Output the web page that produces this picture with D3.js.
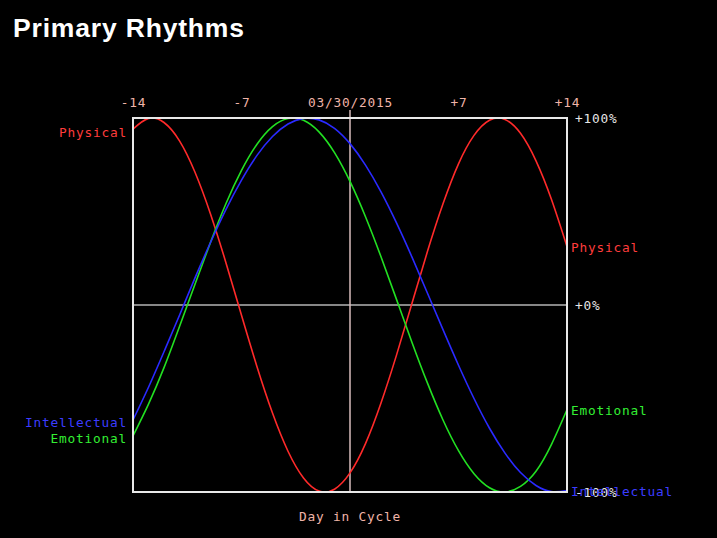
<!DOCTYPE html>
<html>
<head>
<meta charset="utf-8">
<script src="https://cdn.jsdelivr.net/npm/d3@7"></script>
<style>
  html, body { margin: 0; padding: 0; background: #000; }
  svg { display: block; }
  .mono { font-family: "DejaVu Sans Mono", "Liberation Mono", monospace; font-size: 12.8px; letter-spacing: 0.8px; }
</style>
</head>
<body>
<svg id="chart" width="717" height="538"></svg>
<script>
// ---- data ----
const days = [-14,-13,-12,-11,-10,-9,-8,-7,-6,-5,-4,-3,-2,-1,0,1,2,3,4,5,6,7,8,9,10,11,12,13,14];
const physical = [0.941,0.998,0.976,0.878,0.710,0.487,0.225,-0.055,-0.330,-0.578,-0.782,-0.925,-0.995,-0.985,-0.898,-0.741,-0.524,-0.268,0.009,0.287,0.541,0.755,0.907,0.988,0.992,0.918,0.771,0.564,0.312];
const emotional = [-0.700,-0.530,-0.335,-0.115,0.111,0.335,0.543,0.720,0.860,0.954,0.997,0.988,0.926,0.815,0.661,0.472,0.258,0.030,-0.200,-0.418,-0.615,-0.779,-0.902,-0.977,-1.000,-0.970,-0.889,-0.745,-0.560];
const intellectual = [-0.615,-0.440,-0.250,-0.055,0.145,0.334,0.511,0.668,0.800,0.901,0.968,0.998,0.990,0.945,0.863,0.748,0.605,0.439,0.256,0.063,-0.132,-0.322,-0.500,-0.659,-0.792,-0.896,-0.965,-0.998,-0.992];
const seriesNames = ["Physical","Emotional","Intellectual"];
const tickDays = [-14,-7,0,7,14];
const tickLabels = ["-14","-7","03/30/2015","+7","+14"];
const pctValues = [1,0,-1];
const pctLabels = ["+100%","+0%","-100%"];
const title = "Primary Rhythms";
const xTitle = "Day in Cycle";

// ---- drawing ----
const colors = {Physical:"#ff2a2a", Emotional:"#22e022", Intellectual:"#2a2aff"};
const labelColors = {Physical:"#ff3c3c", Emotional:"#33ee33", Intellectual:"#3c3cff"};
const seriesData = {Physical: physical, Emotional: emotional, Intellectual: intellectual};

const svg = d3.select("#chart");
svg.append("rect").attr("width",717).attr("height",538).attr("fill","#000");

const L = 133, R = 567, T = 118, B = 492;
const x = d3.scaleLinear().domain([-14,14]).range([L,R]);
const y = d3.scaleLinear().domain([-1,1]).range([B,T]);

svg.append("text").attr("x",13).attr("y",37)
  .attr("fill","#fff").attr("font-family","Liberation Sans, Arial, sans-serif")
  .attr("font-weight","bold").attr("font-size",26.5).attr("textLength",231)
  .text(title);

// zero line
svg.append("line").attr("x1",L).attr("x2",R).attr("y1",y(0)).attr("y2",y(0))
  .attr("stroke","#b4b4b4").attr("stroke-width",1.5);
// today line
svg.append("line").attr("x1",x(0)).attr("x2",x(0)).attr("y1",T-8).attr("y2",B)
  .attr("stroke","#d8bcbc").attr("stroke-width",1.5);

// series
const line = d3.line().x((d,i)=>x(days[i])).y(d=>y(d)).curve(d3.curveNatural);
seriesNames.forEach(n=>{
  svg.append("path").datum(seriesData[n]).attr("d",line)
    .attr("fill","none").attr("stroke",colors[n]).attr("stroke-width",1.6);
});

// frame
svg.append("rect").attr("x",L).attr("y",T).attr("width",R-L).attr("height",B-T)
  .attr("fill","none").attr("stroke","#e8e8e8").attr("stroke-width",2);

// top tick labels
const topAxis = d3.axisTop(x).tickValues(tickDays).tickFormat((d,i)=>tickLabels[i]).tickSize(0).tickPadding(0);
const gTop = svg.append("g").attr("transform",`translate(0,${T-11})`).call(topAxis);
gTop.select(".domain").remove();
gTop.selectAll("text").attr("class","mono").attr("fill","#f0b4a8").attr("font-size",null).attr("font-family",null);

// right pct labels
const rightAxis = d3.axisRight(y).tickValues(pctValues).tickFormat((d,i)=>pctLabels[i]).tickSize(0).tickPadding(0);
const gR = svg.append("g").attr("transform",`translate(${R+8},0)`).call(rightAxis);
gR.select(".domain").remove();
gR.selectAll("text").attr("class","mono").attr("fill","#e6e6e6").attr("font-size",null).attr("font-family",null);

// series labels, left and right
function placeLabels(side){
  const idx = side==="left" ? 0 : days.length-1;
  const items = seriesNames.map(n=>({n, y: y(seriesData[n][idx])+(side==="left"?3:1)}));
  items.sort((a,b)=>a.y-b.y);
  for(let i=1;i<items.length;i++){
    if(items[i].y - items[i-1].y < 16){
      const mid = (items[i].y + items[i-1].y)/2;
      items[i-1].y = mid-8; items[i].y = mid+8;
    }
  }
  items.forEach(it=>{
    svg.append("text").attr("class","mono")
      .attr("x", side==="left" ? L-6 : R+4)
      .attr("y", it.y).attr("dy","0.35em")
      .attr("text-anchor", side==="left" ? "end" : "start")
      .attr("fill", labelColors[it.n]).text(it.n);
  });
}
placeLabels("left");
placeLabels("right");

// x title
svg.append("text").attr("class","mono").attr("x",x(0)).attr("y",521)
  .attr("text-anchor","middle").attr("fill","#f0b4a8").text(xTitle);
</script>
</body>
</html>
